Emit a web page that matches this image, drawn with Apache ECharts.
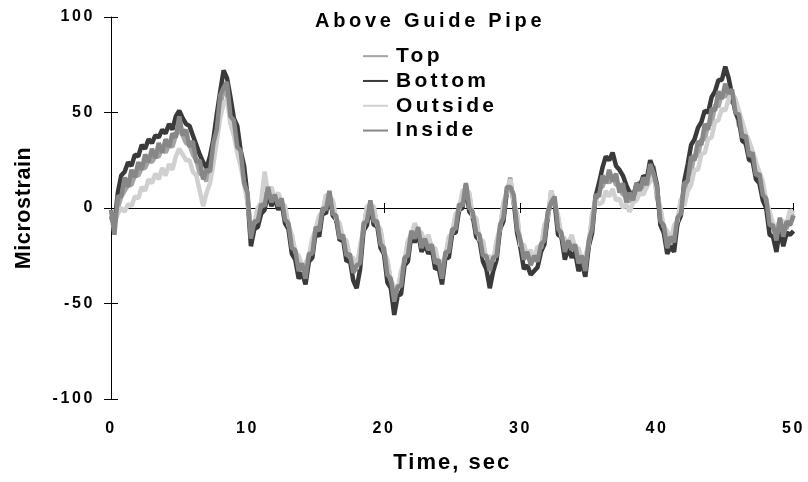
<!DOCTYPE html>
<html>
<head>
<meta charset="utf-8">
<script src="https://cdn.jsdelivr.net/npm/echarts@6/dist/echarts.min.js"></script>
<style>
  html, body { margin: 0; padding: 0; background: #ffffff; }
  #chart { width: 808px; height: 482px; }
</style>
</head>
<body>
<div id="chart"></div>
<script>
// Strain gauge readings above the guide pipe, sampled every 0.25 s from 0 to 50 s.
const sampleStep = 0.25;
const seriesNames = ['Top', 'Bottom', 'Outside', 'Inside'];
const xTickLabels = ['0', '10', '20', '30', '40', '50'];
const yTickLabels = ['-100', '-50', '0', '50', '100'];

const topVals = [
  -5, -9, 0, 6,   9, 12, 12, 17,   17, 21, 21, 25,   24, 27, 27, 31,   29, 33, 32, 38,
  41, 38, 34, 33,   28, 25, 18, 17,   14, 21, 27, 42,   52, 63, 59, 50,   39, 35, 24, 16,
  4, -12, -9, -1,   -1, 7, 8, 9,   4, 7, 2, 0,   -10, -15, -24, -26,   -31, -30, -26, -17,
  -12, -5, -3, 6,   5, 3, -7, -9,   -17, -18, -27, -27,   -33, -21, -12, 0,   0, 0, -10, -12,
  -24, -28, -39, -42,   -44, -34, -29, -18,   -15, -9, -13, -14,   -19, -15, -22, -22,   -30, -30, -26, -16,
  -14, -4, -2, 8,   9, 7, -6, -6,   -18, -18, -28, -26,   -29, -18, -12, 2,   7, 16, 2, -4,
  -21, -20, -26, -23,   -28, -21, -22, -10,   -6, 9, 2, -5,   -16, -17, -20, -15,   -22, -22, -28, -26,
  -20, -4, 3, 11,   11, 16, 13, 17,   12, 12, 7, 7,   3, 9, 7, 14,   10, 16, 17, 22,
  5, -1, -12, -14,   -19, -11, -9, 4,   6, 17, 19, 28,   27, 36, 36, 44,   44, 54, 53, 60,
  58, 63, 55, 55,   43, 42, 33, 32,   24, 22, 13, 12,   0, -3, -11, -10,   -9, -8, -11, -2,
  -5
];

const bottomVals = [
  -4, -9, 8, 17,   19, 24, 22, 28,   27, 33, 31, 36,   34, 38, 37, 41,   39, 44, 41, 48,
  51, 47, 44, 43,   38, 33, 28, 24,   21, 27, 36, 49,   61, 72, 68, 58,   47, 43, 30, 22,
  6, -20, -11, -10,   -3, -1, 8, 1,   5, -1, 3, -8,   -11, -24, -27, -37,   -34, -40, -28, -26,
  -12, -15, -2, -3,   8, -4, -6, -17,   -16, -28, -27, -38,   -42, -32, -12, -9,   2, -9, -9, -21,
  -24, -39, -42, -56,   -46, -45, -30, -28,   -14, -18, -13, -23,   -19, -24, -21, -32,   -31, -40, -26, -26,
  -13, -13, -1, 0,   12, -2, -4, -15,   -17, -28, -32, -42,   -33, -27, -11, -7,   9, 13, 4, -13,
  -21, -32, -30, -35,   -33, -31, -23, -19,   -4, 5, 3, -14,   -15, -27, -21, -26,   -23, -33, -29, -36,
  -20, -13, 6, 13,   21, 27, 25, 29,   22, 20, 17, 12,   8, 5, 13, 11,   17, 15, 25, 20,
  12, -9, -13, -24,   -20, -23, -8, -4,   14, 23, 33, 36,   42, 45, 51, 50,   58, 61, 67, 67,
  74, 68, 59, 50,   46, 35, 34, 25,   25, 15, 13, 4,   0, -14, -15, -23,   -11, -20, -13, -14,
  -12
];

const outsideVals = [
  -4, -8, -3, 0,   -2, 2, 1, 6,   5, 11, 9, 15,   13, 18, 15, 21,   17, 23, 20, 27,
  31, 28, 25, 25,   19, 17, 9, 1,   8, 13, 23, 35,   47, 55, 57, 44,   38, 29, 22, 13,
  3, -10, -8, 0,   3, 19, 8, 11,   5, 8, 3, 1,   -9, -14, -23, -25,   -30, -29, -25, -16,
  -11, -4, -2, 7,   6, 4, -6, -8,   -16, -17, -26, -26,   -32, -20, -11, 1,   1, 1, -9, -11,
  -23, -27, -38, -41,   -43, -33, -28, -17,   -14, -8, -12, -13,   -18, -14, -21, -21,   -29, -29, -25, -15,
  -13, -3, -1, 9,   10, 8, -5, -5,   -17, -17, -27, -25,   -28, -17, -11, 3,   8, 15, 3, -3,
  -20, -19, -25, -22,   -27, -20, -21, -9,   -5, 9, 3, -4,   -15, -16, -19, -14,   -21, -21, -27, -25,
  -19, -3, 4, 2,   3, 9, 6, 10,   4, 5, 0, 2,   -2, 3, 4, 8,   7, 11, 14, 17,
  8, 0, -10, -12,   -17, -9, -7, 5,   1, 9, 12, 20,   20, 28, 29, 36,   37, 45, 46, 52,
  51, 57, 60, 57,   51, 45, 39, 35,   30, 24, 19, 14,   4, -2, -8, -11,   -6, -7, -8, -1,
  -3
];

const insideVals = [
  -1, -14, 6, 6,   16, 11, 20, 16,   24, 20, 28, 24,   31, 26, 34, 29,   36, 32, 39, 37,
  48, 38, 41, 32,   35, 24, 25, 15,   20, 19, 34, 41,   59, 63, 66, 48,   46, 32, 30, 13,
  8, -16, -7, -7,   2, 1, 11, 3,   7, 1, 5, -6,   -8, -21, -22, -33,   -29, -37, -24, -24,
  -10, -12, 0, -1,   9, -3, -4, -16,   -14, -25, -24, -34,   -30, -29, -8, -7,   4, -7, -7, -19,
  -21, -35, -37, -49,   -41, -41, -26, -25,   -12, -16, -10, -21,   -16, -22, -19, -29,   -27, -37, -23, -23,
  -11, -11, 2, 1,   13, 0, -2, -13,   -14, -25, -25, -33,   -26, -25, -9, -5,   11, 11, 7, -11,
  -17, -27, -23, -30,   -25, -28, -19, -17,   -2, 3, 6, -11,   -13, -23, -17, -22,   -19, -29, -25, -33,
  -17, -11, 7, 6,   17, 13, 20, 14,   18, 8, 13, 3,   8, 4, 13, 9,   16, 12, 23, 18,
  11, -7, -9, -21,   -15, -18, -5, -3,   13, 14, 27, 25,   35, 33, 44, 41,   52, 51, 61, 57,
  65, 60, 62, 50,   49, 37, 38, 27,   29, 17, 18, 7,   5, -9, -9, -17,   -5, -15, -7, -9,
  -4
];

const seriesVals = [topVals, bottomVals, outsideVals, insideVals];
const seriesColors = ['#a4a4a4', '#3a3a3a', '#d0d0d0', '#878787'];

// Extra spacing between characters, looked up by font size (px).
const spacingBySize = { '16.0': 2.6, '20.0': 3.7, '21.0': 3.3, '21.5': 0.6, '22.0': 2.0 };
(function () {
  const proto = CanvasRenderingContext2D.prototype;
  const pick = (font) => {
    const m = /(\d+(?:\.\d+)?)px/.exec(font || '');
    const s = m ? spacingBySize[parseFloat(m[1]).toFixed(1)] : 0;
    return (s || 0) + 'px';
  };
  ['fillText', 'strokeText', 'measureText'].forEach((fn) => {
    const orig = proto[fn];
    proto[fn] = function () {
      this.letterSpacing = pick(this.font);
      return orig.apply(this, arguments);
    };
  });
})();

const FONT = '"Liberation Sans", Arial, sans-serif';
const toPoints = (vals) => vals.map((v, i) => [i * sampleStep, v]);

const chart = echarts.init(document.getElementById('chart'), null, { renderer: 'canvas' });

const xBase = { type: 'value', min: 0, max: 50, interval: 10, splitLine: { show: false } };
const yBase = { type: 'value', min: -100, max: 100, interval: 50, splitLine: { show: false } };

chart.setOption({
  animation: false,
  backgroundColor: '#ffffff',
  title: {
    text: 'Above Guide Pipe',
    left: 310,
    top: 5,
    textStyle: { fontFamily: FONT, fontWeight: 'bold', fontSize: 20, color: '#000' }
  },
  legend: {
    orient: 'vertical',
    left: 363,
    top: 44,
    padding: 0,
    itemWidth: 25,
    itemHeight: 2,
    itemGap: 0.5,
    icon: 'rect',
    data: seriesNames,
    textStyle: { fontFamily: FONT, fontWeight: 'bold', fontSize: 21, color: '#000', padding: [0, 0, 0, 3] }
  },
  grid: { left: 111, right: 14, top: 17, bottom: 83, containLabel: false },
  xAxis: [
    Object.assign({}, xBase, {
      position: 'bottom',
      name: 'Time, sec',
      nameLocation: 'middle',
      nameGap: 52,
      nameTextStyle: { fontFamily: FONT, fontWeight: 'bold', fontSize: 22, color: '#000' },
      axisLine: { show: false, onZero: false },
      axisTick: { show: false },
      axisLabel: {
        margin: 20,
        fontFamily: FONT, fontWeight: 'bold', fontSize: 16, color: '#000',
        formatter: (v) => xTickLabels[Math.round(v / 10)]
      }
    }),
    Object.assign({}, xBase, {
      position: 'bottom',
      axisLine: { show: true, onZero: true, onZeroAxisIndex: 0, lineStyle: { color: '#000', width: 1 } },
      axisTick: { show: true, length: 5, lineStyle: { color: '#000' } },
      axisLabel: { show: false }
    }),
    Object.assign({}, xBase, {
      position: 'top',
      axisLine: { show: false, onZero: true, onZeroAxisIndex: 0 },
      axisTick: { show: true, length: 5, lineStyle: { color: '#000' } },
      axisLabel: { show: false }
    })
  ],
  yAxis: [
    Object.assign({}, yBase, {
      position: 'left',
      name: 'Microstrain',
      nameLocation: 'middle',
      nameGap: 76,
      nameRotate: 90,
      nameTextStyle: { fontFamily: FONT, fontWeight: 'bold', fontSize: 21.5, color: '#000' },
      axisLine: { show: true, lineStyle: { color: '#000', width: 1 } },
      axisTick: { show: true, length: 7, lineStyle: { color: '#000' } },
      axisLabel: {
        margin: 16,
        fontFamily: FONT, fontWeight: 'bold', fontSize: 16, color: '#000',
        formatter: (v) => yTickLabels[Math.round((v + 100) / 50)]
      }
    }),
    Object.assign({}, yBase, {
      position: 'right',
      axisLine: { show: false, onZero: true, onZeroAxisIndex: 0 },
      axisTick: { show: true, length: 7, lineStyle: { color: '#000' } },
      axisLabel: { show: false }
    })
  ],
  series: seriesNames.map((name, k) => ({
    name: name,
    type: 'line',
    xAxisIndex: 0,
    yAxisIndex: 0,
    data: toPoints(seriesVals[k]),
    showSymbol: false,
    symbol: 'none',
    color: seriesColors[k],
    lineStyle: { color: seriesColors[k], width: 4.5, join: 'bevel', cap: 'butt' },
    z: 2 + k
  }))
});
</script>
</body>
</html>
